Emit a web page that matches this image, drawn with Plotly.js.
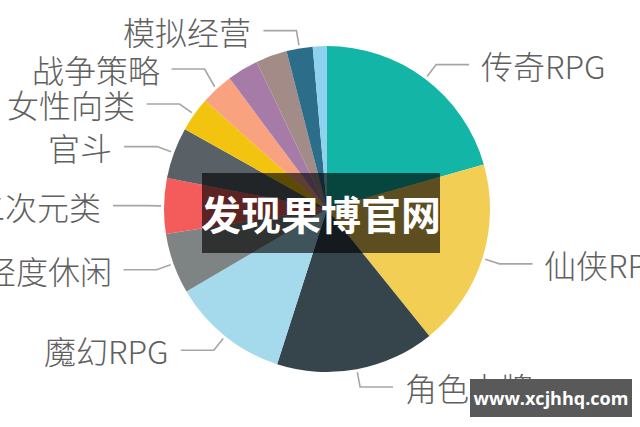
<!DOCTYPE html>
<html>
<head>
<meta charset="utf-8">
<script src="https://cdn.plot.ly/plotly-3.0.1.min.js"></script>
<style>
  html, body { margin: 0; padding: 0; background: #ffffff; }
  #chart { width: 640px; height: 427px; }
</style>
</head>
<body>
<div id="chart"></div>
<script>
// ---- data ----
const categories = ['传奇RPG', '仙侠RPG', '角色卡牌', '魔幻RPG', '轻度休闲', '二次元类', '官斗', '女性向类', '战争策略', '其他一', '其他二', '模拟经营', '其他三'];
const shares = [20.6, 18.6, 15.75, 11.6, 6.0, 5.5, 5.1, 3.4, 3.25, 3.1, 3.1, 2.6, 1.4];
const labelShown = [true, true, true, true, true, true, true, true, true, false, false, true, false];
const sliceColors = ['#13b5a6', '#f2ce55', '#36454c', '#a5daed', '#7e8383', '#f45b5b', '#596166', '#f2c40f', '#f8a280', '#a67ba8', '#a38b88', '#2c6e8a', '#8dd3ef'];
const overlayText = '发现果博官网';
const watermarkText = 'www.xcjhhq.com';

// ---- layout constants ----
const W = 640, H = 427;
const cx = 327, cy = 209, R = 163;
const OFF = 3, L1 = 15, L2 = 33, GAP = 10, MINSEP = 35;

const px = x => x / W;
const py = y => 1 - y / H;

// compute slice mid angles (clockwise from 12 o'clock)
const total = shares.reduce((a, b) => a + b, 0);
let acc = 0;
const items = [];
shares.forEach((v, i) => {
  const a0 = acc / total * 360;
  acc += v;
  const a1 = acc / total * 360;
  if (!labelShown[i]) return;
  const mid = (a0 + a1) / 2 * Math.PI / 180;
  const dx = Math.sin(mid), dy = -Math.cos(mid);
  const p0 = [cx + (R + OFF) * dx, cy + (R + OFF) * dy];
  const p1 = [p0[0] + L1 * dx, p0[1] + L1 * dy];
  items.push({ name: categories[i], p0, p1, y: p1[1], side: dx >= 0 ? 1 : -1 });
});

// resolve vertical overlap per side (push upward)
[1, -1].forEach(side => {
  const s = items.filter(it => it.side === side).sort((a, b) => a.y - b.y);
  for (let i = s.length - 2; i >= 0; i--) {
    if (s[i].y > s[i + 1].y - MINSEP) s[i].y = s[i + 1].y - MINSEP;
  }
});

const shapes = [];
const annotations = [];
items.forEach(it => {
  const x2 = it.p1[0] + it.side * L2;
  shapes.push({
    type: 'path', xref: 'paper', yref: 'paper',
    path: `M ${px(it.p0[0])} ${py(it.p0[1])} L ${px(it.p1[0])} ${py(it.y)} L ${px(x2)} ${py(it.y)}`,
    line: { color: '#a6a6a6', width: 1.6 }
  });
  annotations.push({
    xref: 'paper', yref: 'paper', x: px(x2 + it.side * GAP), y: py(it.y),
    xanchor: it.side > 0 ? 'left' : 'right', yanchor: 'middle',
    text: it.name, showarrow: false,
    font: { family: 'Noto Sans CJK SC, sans-serif', size: 32, color: '#606060', weight: 300 }
  });
});

// overlay banner
annotations.push({
  xref: 'paper', yref: 'paper', x: px(321), y: py(213),
  xanchor: 'center', yanchor: 'middle',
  width: 238, height: 80, borderpad: 0, borderwidth: 0,
  bgcolor: 'rgba(0,0,0,0.62)', showarrow: false,
  text: overlayText,
  font: { family: 'Noto Sans CJK SC, sans-serif', size: 40, color: '#ffffff', weight: 'bold' }
});
// watermark
annotations.push({
  xref: 'paper', yref: 'paper', x: px(551), y: py(398),
  xanchor: 'center', yanchor: 'middle',
  width: 162, height: 38, borderpad: 0, borderwidth: 0,
  bgcolor: '#595959', showarrow: false,
  text: watermarkText,
  font: { family: 'Open Sans, sans-serif', size: 18, color: '#ffffff', weight: 'bold' }
});

const trace = {
  type: 'pie',
  labels: categories,
  values: shares,
  sort: false,
  direction: 'clockwise',
  rotation: 0,
  textinfo: 'none',
  hoverinfo: 'label+percent',
  marker: { colors: sliceColors, line: { width: 0 } },
  domain: { x: [px(cx - R), px(cx + R)], y: [py(cy + R), py(cy - R)] }
};

const layout = {
  width: W, height: H,
  margin: { l: 0, r: 0, t: 0, b: 0 },
  showlegend: false,
  paper_bgcolor: '#ffffff',
  shapes, annotations
};

Plotly.newPlot('chart', [trace], layout, { staticPlot: true });
</script>
</body>
</html>
